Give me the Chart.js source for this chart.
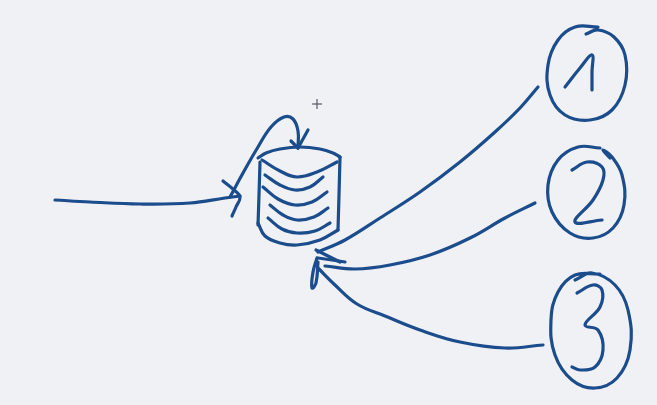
<!DOCTYPE html>
<html>
<head>
<meta charset="utf-8">
<script src="https://cdn.jsdelivr.net/npm/chart.js@4/dist/chart.umd.min.js"></script>
<style>
  html, body { margin: 0; padding: 0; background: #f0f1f5; }
  #wrap { width: 657px; height: 405px; }
</style>
</head>
<body>
<div id="wrap"><canvas id="sketch" width="657" height="405"></canvas></div>
<script>
// stroke points (x, y in picture pixels)
const leftArrow = [[55,200],[90,202],[140,204],[190,203],[225,198],[240,196]]
const leftHead = [[223,181],[234,190],[240,197],[236,207],[232,216]]
const hook = [[230,197],[243,173],[258,147],[271,127],[284,117],[293,119],[298,131],[298,148]]
const hookHeadA = [[308,130],[298,148]]
const hookHeadB = [[291,141],[298,148]]

const cylTopBack = [[258,158],[266,153],[280,149],[300,147],[320,149],[333,153],[340,157]]
const cylTopFront = [[262,160],[280,171],[297,177],[317,172],[337,162]]
const stripe2 = [[265,175],[280,185],[295,190],[310,187],[323,177]]
const stripe3 = [[263,187],[278,199],[295,205],[312,202],[327,192]]
const stripe4 = [[270,205],[283,215],[297,220],[314,217],[328,208]]
const stripe5 = [[268,218],[282,229],[297,233],[315,231],[330,223]]
const cylBottom = [[258,223],[265,236],[280,243],[297,245],[320,240],[338,230]]
const cylLeft = [[260,162],[259,195],[258,225]]
const cylRight = [[340,157],[339,195],[338,230]]

const line1 = [[538,87],[520,108],[495,132],[460,162],[420,192],[380,218],[345,240],[318,252]]
const line2 = [[535,203],[505,218],[470,238],[430,255],[390,265],[355,269],[325,266]]
const line3 = [[543,345],[505,348],[460,342],[420,330],[385,316],[357,304],[335,285],[318,268]]
const tipHeadA = [[316,250],[328,256],[340,262]]
const tipHeadB = [[318,258],[332,260],[345,262]]
const tipLoop = [[317,258],[313,272],[312,288],[316,283],[318,262]]

const circle1 = [[598,27],[575,27],[558,40],[548,65],[550,95],[565,115],[590,120],[612,110],[625,85],[625,55],[614,37],[598,30],[586,34]]
const circle2 = [[600,148],[578,147],[558,160],[548,185],[552,212],[570,233],[593,238],[613,228],[624,205],[622,175],[612,157],[603,150],[610,158]]
const circle3 = [[600,274],[575,275],[558,292],[551,320],[555,355],[572,380],[595,388],[617,378],[630,350],[628,310],[615,285],[592,273],[575,280]]

const digit1 = [[565,87],[580,68],[592,55],[592,72],[592,90]]
const digit2 = [[572,170],[587,162],[602,167],[603,180],[593,200],[575,222],[602,220]]
const digit3 = [[577,293],[593,285],[602,290],[600,307],[585,325],[598,330],[603,350],[595,367],[580,370],[572,367]]

const cursorH = [[312,104],[322,104]]
const cursorV = [[317,99],[317,109]]

const ink = '#1b4c8c'
const strokes = [
    leftArrow, leftHead, hook, hookHeadA, hookHeadB,
    cylTopBack, cylTopFront, stripe2, stripe3, stripe4, stripe5, cylBottom, cylLeft, cylRight,
    line1, line2, line3, tipHeadA, tipHeadB, tipLoop,
    circle1, circle2, circle3, digit1, digit2, digit3
]

function toPoints(arr) {
    return arr.map(p => ({ x: p[0], y: p[1] }))
}

const datasets = strokes.map(s => ({
    data: toPoints(s),
    showLine: true,
    borderColor: ink,
    borderWidth: 3.2,
    borderCapStyle: 'round',
    borderJoinStyle: 'round',
    tension: 0.4,
    pointRadius: 0,
    fill: false
}))

;[cursorH, cursorV].forEach(s => datasets.push({
    data: toPoints(s),
    showLine: true,
    borderColor: '#555a63',
    borderWidth: 1.2,
    tension: 0,
    pointRadius: 0
}))

new Chart(document.getElementById('sketch'), {
    type: 'scatter',
    data: { datasets },
    options: {
        responsive: false,
        animation: false,
        layout: { padding: 0 },
        plugins: { legend: { display: false }, tooltip: { enabled: false } },
        scales: {
            x: { type: 'linear', min: 0, max: 657, display: false },
            y: { type: 'linear', min: 0, max: 405, reverse: true, display: false }
        }
    }
})
</script>
</body>
</html>
